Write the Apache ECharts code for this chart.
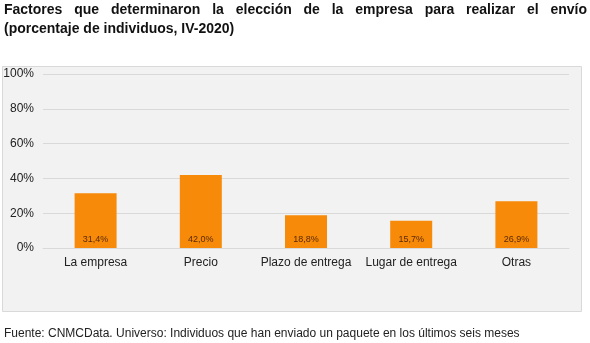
<!DOCTYPE html>
<html>
<head>
<meta charset="utf-8">
<script src="https://cdn.jsdelivr.net/npm/echarts@6/dist/echarts.min.js"></script>
<style>
  html, body { margin: 0; padding: 0; background: #ffffff; }
  #wrap { position: relative; width: 590px; height: 343px; }
  #chart { position: absolute; left: 0; top: 0; width: 590px; height: 343px; }
  #title {
    position: absolute; left: 4px; top: 0px; width: 583px;
    font: bold 14px/19px "Liberation Sans", Arial, sans-serif;
    color: #111111; z-index: 2;
  }
  #title .l1 { display: block; text-align: justify; text-align-last: justify; }
  #title .l2 { display: block; }
</style>
</head>
<body>
<div id="wrap">
  <div id="chart"></div>
  <div id="title"></div>
</div>
<script>
// Factors for choosing the delivery company (% of individuals, IV-2020)
const categories = ['La empresa', 'Precio', 'Plazo de entrega', 'Lugar de entrega', 'Otras'];
const values = [31.4, 42.0, 18.8, 15.7, 26.9];
const yTicks = [0, 20, 40, 60, 80, 100];

const titleLines = [
  'Factores que determinaron la elección de la empresa para realizar el envío',
  '(porcentaje de individuos, IV-2020)'
];
const sourceNote = 'Fuente: CNMCData. Universo: Individuos que han enviado un paquete en los últimos seis meses';

// Two-line heading; the first line is justified across the full width
const titleEl = document.getElementById('title');
titleLines.forEach((t, i) => {
  const s = document.createElement('span');
  s.className = 'l' + (i + 1);
  s.textContent = t;
  titleEl.appendChild(s);
});

const chart = echarts.init(document.getElementById('chart'), null, { renderer: 'canvas' });

const fmt = v => v.toFixed(1).replace('.', ',') + '%';

chart.setOption({
  animation: false,
  backgroundColor: '#ffffff',
  textStyle: { fontFamily: 'Liberation Sans, Arial, sans-serif' },
  graphic: [
    {
      type: 'rect',
      z: -10,
      shape: { x: 2.5, y: 66.5, width: 579, height: 245 },
      style: { fill: '#f2f2f2', stroke: '#d9d9d9', lineWidth: 1 }
    },
    {
      type: 'text',
      left: 4,
      top: 328,
      style: {
        text: sourceNote,
        font: '12px "Liberation Sans", Arial, sans-serif',
        fill: '#222222'
      }
    }
  ],
  grid: {
    left: 43,
    right: 21,
    top: 74,
    bottom: 95,
    containLabel: false
  },
  xAxis: {
    type: 'category',
    data: categories,
    axisTick: { show: false },
    axisLine: { show: true, lineStyle: { color: '#d9d9d9', width: 1 } },
    axisLabel: {
      interval: 0,
      color: '#222222',
      fontSize: 12,
      margin: 9,
      fontFamily: 'Liberation Sans, Arial, sans-serif'
    }
  },
  yAxis: {
    type: 'value',
    min: yTicks[0],
    max: yTicks[yTicks.length - 1],
    interval: yTicks[1] - yTicks[0],
    axisLine: { show: false },
    axisTick: { show: false },
    splitLine: { lineStyle: { color: '#d9d9d9', width: 1 } },
    axisLabel: {
      formatter: '{value}%',
      color: '#222222',
      fontSize: 12,
      margin: 9,
      fontFamily: 'Liberation Sans, Arial, sans-serif'
    }
  },
  series: [{
    type: 'bar',
    data: values,
    barWidth: 42,
    itemStyle: { color: '#f78a08' },
    label: {
      show: true,
      position: 'insideBottom',
      distance: 4,
      formatter: p => fmt(p.value),
      color: '#5a2a00',
      fontSize: 9,
      fontFamily: 'Liberation Sans, Arial, sans-serif'
    }
  }]
});
</script>
</body>
</html>
